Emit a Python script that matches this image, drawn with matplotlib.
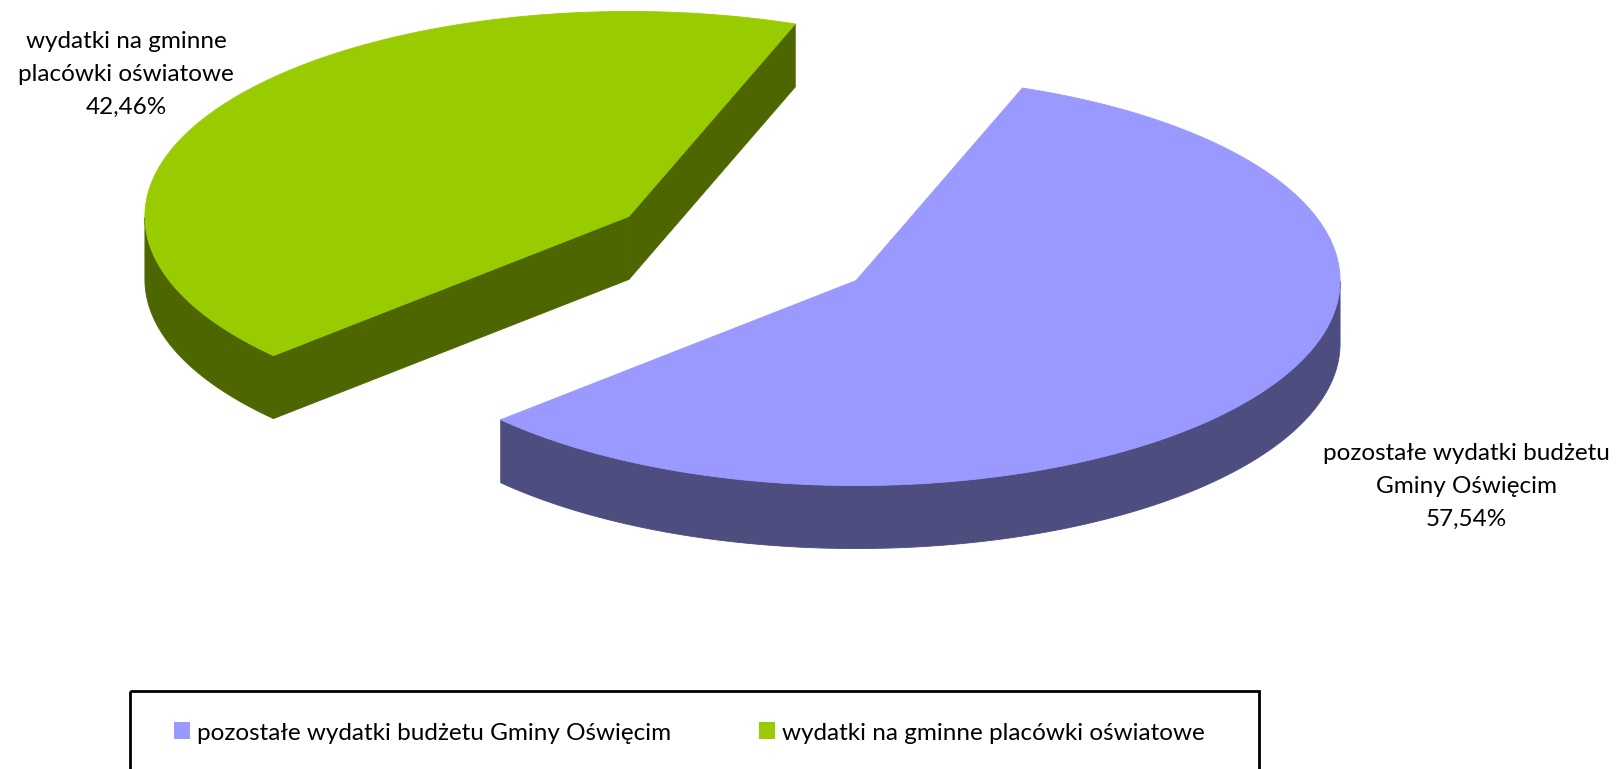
import numpy as np
import matplotlib.pyplot as plt
from matplotlib.patches import Polygon, Rectangle

plt.rcParams['font.family'] = ['Lato', 'DejaVu Sans']

# dane
kategorie = ["pozostałe wydatki budżetu Gminy Oświęcim",
             "wydatki na gminne placówki oświatowe"]
etykiety = [["pozostałe wydatki budżetu", "Gminy Oświęcim"],
            ["wydatki na gminne", "placówki oświatowe"]]
udzialy = [57.54, 42.46]
kol_gora = ["#9999FF", "#99CC00"]
kol_bok = ["#4D4D80", "#4D6600"]

# geometria (piksele)
W, H = 1617, 769
CX, CY = 742.5, 248.5
RA, RB = 484.0, 205.0
GLEB = 63.0
START = 69.9
EXPL = 0.282
FS = 17.5


def pkt(cx, cy, th, dz=0.0):
    r = np.radians(th)
    return np.column_stack([cx + RA*np.cos(r), cy - RB*np.sin(r) + dz])


def wycinek(ax, th1, th2, kg, kb):
    mid = np.radians(0.5*(th1 + th2))
    cx = CX + EXPL*RA*np.cos(mid)
    cy = CY - EXPL*RB*np.sin(mid)
    th = np.linspace(th1, th2, 400)

    # sciany radialne
    for te, widoczna in ((th1, np.cos(np.radians(th1)) < 0),
                         (th2, -np.cos(np.radians(th2)) < 0)):
        if not widoczna:
            continue
        p = pkt(cx, cy, [te])[0]
        quad = [(cx, cy), tuple(p), (p[0], p[1] + GLEB), (cx, cy + GLEB)]
        ax.add_patch(Polygon(quad, closed=True, fc=kb, ec=kb, lw=0.6))

    # brzeg (tylko przednia czesc)
    maska = np.sin(np.radians(th)) < 0
    idx = np.where(maska)[0]
    if len(idx):
        grupy = np.split(idx, np.where(np.diff(idx) > 1)[0] + 1)
        for g in grupy:
            gora = pkt(cx, cy, th[g])
            dol = pkt(cx, cy, th[g], GLEB)[::-1]
            ax.add_patch(Polygon(np.vstack([gora, dol]), closed=True,
                                 fc=kb, ec=kb, lw=0.6))

    # wierzch
    top = np.vstack([[cx, cy], pkt(cx, cy, th)])
    ax.add_patch(Polygon(top, closed=True, fc=kg, ec=kg, lw=0.6))
    return cy


fig = plt.figure(figsize=(W/100, H/100), dpi=100)
ax = fig.add_axes([0, 0, 1, 1])
ax.set_xlim(0, W)
ax.set_ylim(H, 0)
ax.axis("off")

# katy wycinkow, zgodnie z ruchem wskazowek zegara
katy = []
t = START
for v in udzialy:
    katy.append((t, t - 360.0*v/sum(udzialy)))
    t -= 360.0*v/sum(udzialy)

# najpierw dalszy wycinek
mids = [np.sin(np.radians(0.5*(a + b))) for a, b in katy]
for i in np.argsort(mids)[::-1]:
    wycinek(ax, katy[i][0], katy[i][1], kol_gora[i], kol_bok[i])

# etykiety danych
poz_etyk = [(1466, 460), (126, 48)]
for i, (x, y0) in enumerate(poz_etyk):
    linie = etykiety[i] + [("%.2f" % udzialy[i]).replace(".", ",") + "%"]
    for j, s in enumerate(linie):
        ax.text(x, y0 + 33*j, s, ha="center", va="baseline", fontsize=FS,
                color="black")

# legenda
ax.add_patch(Rectangle((130, 691), 1129, 120, fill=False, ec="black", lw=2))
leg_x = [174, 759]
for i, nazwa in enumerate(kategorie):
    ax.add_patch(Rectangle((leg_x[i], 722), 16, 17, fc=kol_gora[i], ec="none"))
    ax.text(leg_x[i] + 23, 740, nazwa, ha="left", va="baseline", fontsize=FS,
            color="black")

plt.savefig("out.png", dpi=100)
